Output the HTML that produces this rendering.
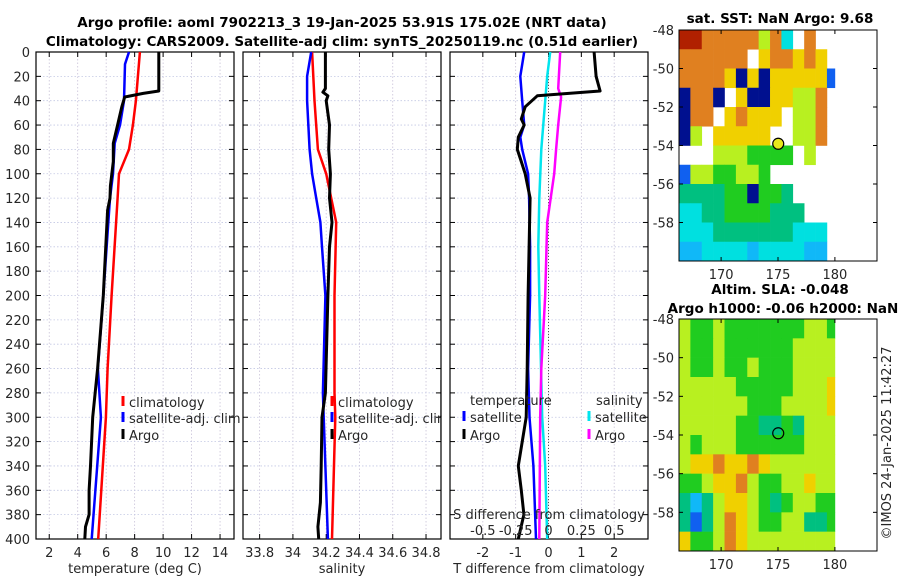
<!DOCTYPE html>
<html><head><meta charset="utf-8">
<style>
html,body{margin:0;padding:0;background:#fff;}
svg{display:block;font-family:"DejaVu Sans","Liberation Sans",sans-serif;}
</style></head>
<body>
<svg id="fig" width="900" height="580" viewBox="0 0 900 580" xmlns="http://www.w3.org/2000/svg">
<rect width="900" height="580" fill="#fff"/>
<text x="342" y="27" text-anchor="middle" font-size="13.5" font-weight="bold">Argo profile: aoml 7902213_3 19-Jan-2025 53.91S 175.02E (NRT data)</text>
<text x="342" y="46" text-anchor="middle" font-size="13.5" font-weight="bold">Climatology: CARS2009. Satellite-adj clim: synTS_20250119.nc (0.51d earlier)</text>
<g id="g"></g>
</svg>
<script>
// ---- data ----
const depthTicks=[0,20,40,60,80,100,120,140,160,180,200,220,240,260,280,300,320,340,360,380,400];
const tempTicks=[2,4,6,8,10,12,14];
const salTicks=[33.8,34,34.2,34.4,34.6,34.8];
const salTickLabels=["33.8","34","34.2","34.4","34.6","34.8"];
const dtTicks=[-2,-1,0,1,2];
const dsTicks=[-0.5,-0.25,0,0.25,0.5];
const dsTickLabels=["-0.5","-0.25","0","0.25","0.5"];

const climTempDepth=[0,40,60,80,100,120,200,260,300,400];
const climTemp=[8.37,8.09,7.88,7.6,6.9,6.8,6.38,6.1,5.98,5.44];
const satTempDepth=[0,10,40,60,75,100,120,200,260,300,400];
const satTemp=[7.6,7.32,7.25,6.97,6.6,6.48,6.27,5.8,5.42,5.63,4.98];
const argoTempDepth=[0,32,34,37,45,60,75,90,110,120,130,200,260,300,340,360,380,390,400];
const argoTemp=[9.7,9.7,8.6,7.3,7.1,6.8,6.5,6.5,6.3,6.27,6.1,5.8,5.4,5.05,4.9,4.8,4.8,4.55,4.5];

const climSalDepth=[0,40,80,100,120,140,200,280,300,400];
const climSal=[34.115,34.13,34.15,34.2,34.23,34.26,34.25,34.25,34.255,34.235];
const satSalDepth=[0,20,40,80,100,120,140,160,200,280,300,400];
const satSal=[34.11,34.085,34.085,34.1,34.115,34.14,34.165,34.175,34.195,34.18,34.185,34.21];
const argoSalDepth=[0,30,33,36,40,60,80,100,120,140,160,200,280,300,340,370,390,400];
const argoSal=[34.195,34.195,34.18,34.21,34.2,34.22,34.215,34.225,34.22,34.235,34.22,34.21,34.195,34.175,34.17,34.165,34.15,34.155];

const dSatTDepth=[0,20,40,60,70,80,100,120,160,200,260,300,340,400];
const dSatT=[-0.74,-0.86,-0.8,-0.74,-0.86,-0.8,-0.62,-0.59,-0.56,-0.56,-0.62,-0.58,-0.46,-0.38];
const dArgoTDepth=[0,20,32,36,45,55,60,70,80,90,100,120,200,260,300,340,360,380,400];
const dArgoT=[1.39,1.45,1.57,-0.34,-0.71,-0.83,-0.74,-0.92,-0.95,-0.83,-0.71,-0.56,-0.62,-0.65,-0.68,-0.92,-0.83,-0.75,-0.92];
const dSatSDepth=[0,20,40,80,120,160,200,300,340,400];
const dSatS=[0.013,-0.01,-0.025,-0.055,-0.07,-0.078,-0.07,-0.048,-0.025,-0.01];
const dArgoSDepth=[0,30,37,60,80,100,140,200,260,300,400];
const dArgoS=[0.089,0.074,0.096,0.074,0.058,0.043,-0.01,-0.025,-0.055,-0.063,-0.07];

const mapLonTicks=[170,175,180];
const mapLatTicks=[-48,-50,-52,-54,-56,-58];
const sstGrid=[
[9,9,8,8,8,8,8,6,8,3,-1,8,-1,-1],
[8,8,8,8,8,8,-1,7,8,8,7,8,7,-1],
[8,8,8,8,7,0,7,0,7,7,7,7,7,1],
[0,8,8,0,-1,7,0,0,7,7,6,6,8,-1],
[0,8,8,-1,7,8,7,7,7,-1,6,6,8,-1],
[0,6,-1,7,7,7,7,7,-1,-1,6,6,8,-1],
[-1,-1,-1,6,6,6,5,5,5,5,-1,6,-1,-1],
[1,6,6,5,5,6,6,5,-1,-1,-1,-1,-1,-1],
[4,4,4,4,5,5,0,5,5,4,-1,-1,-1,-1],
[3,3,4,4,5,5,5,5,4,4,4,-1,-1,-1],
[3,3,3,4,4,4,4,4,4,4,3,3,3,-1],
[2,2,3,3,3,3,2,3,3,3,3,2,2,-1]];
const slaGrid=[
[6,5,5,6,5,5,5,5,5,5,5,6,6,5],
[6,5,5,6,5,5,5,5,5,5,6,6,6,6],
[6,5,5,6,5,5,6,5,5,5,6,6,6,6],
[6,6,6,6,6,5,5,5,5,5,6,6,6,7],
[6,6,6,6,6,6,5,5,5,6,6,6,6,7],
[6,6,6,6,6,5,5,4,4,5,4,6,6,6],
[6,5,6,6,6,5,5,5,5,5,5,6,6,6],
[6,7,7,8,7,7,8,7,6,6,6,6,6,6],
[5,5,6,7,7,8,6,5,5,6,6,7,6,6],
[4,2,4,6,7,7,6,5,4,5,6,6,5,5],
[4,1,4,6,8,7,6,5,5,6,6,4,4,5],
[7,5,5,6,8,7,6,6,6,6,6,6,6,6]];
const argoLon=[175.02];
const argoLat=[-53.91];
const palette=['#00108f','#1060f0','#10b8f8','#00e0e0','#00c080','#20cc20','#b8f020','#f0d000','#e08020','#b02000'];

// ---- helpers ----
const NS="http://www.w3.org/2000/svg";
const G=document.getElementById('g');
function el(tag,attrs,parent){const e=document.createElementNS(NS,tag);for(const k in attrs)e.setAttribute(k,attrs[k]);(parent||G).appendChild(e);return e;}
const Y0=52,Y1=539;
const yD=d=>Y0+(d/400)*(Y1-Y0);
function lin(d0,d1,r0,r1){return v=>r0+(v-d0)/(d1-d0)*(r1-r0);}
const panels=[
 {x0:36,x1:234,sx:lin(1.07,14.98,36,234)},
 {x0:243,x1:441,sx:lin(33.70,34.89,243,441)},
 {x0:450,x1:648,sx:lin(-3,3.03,450,648)}];
const sxS=v=>panels[2].sx(v*4);

function gridAndBox(p,xt,name){
  for(const t of xt){const x=p.sx(t);
    const gl=el('line',{x1:x,x2:x,y1:Y0,y2:Y1,stroke:'#c9c2d8','stroke-width':0.8,'stroke-dasharray':'1.5,2'});
    
    el('line',{x1:x,x2:x,y1:Y1,y2:Y1-5,stroke:'#000'});el('line',{x1:x,x2:x,y1:Y0,y2:Y0+5,stroke:'#000'});}
  for(const d of depthTicks){const y=yD(d);
    const gl=el('line',{x1:p.x0,x2:p.x1,y1:y,y2:y,stroke:'#c3c8e4','stroke-width':0.8,'stroke-dasharray':'1.5,2'});
    
    el('line',{x1:p.x0,x2:p.x0+5,y1:y,y2:y,stroke:'#000'});el('line',{x1:p.x1,x2:p.x1-5,y1:y,y2:y,stroke:'#000'});}
  const b=el('rect',{x:p.x0,y:Y0,width:p.x1-p.x0,height:Y1-Y0,fill:'none',stroke:'#000','stroke-width':1.2});
  
}
function line(depths,vals,fx,color,w,name){
  const pts=depths.map((d,i)=>fx(vals[i]).toFixed(1)+','+yD(d).toFixed(1)).join(' ');
  const l=el('polyline',{points:pts,fill:'none',stroke:color,'stroke-width':w,'stroke-linejoin':'round'});
  
}
function txt(x,y,s,attrs,name){const t=el('text',Object.assign({x:x,y:y,'font-size':13,fill:'#262626'},attrs||{}));t.textContent=s;
  return t;}
function legendEntry(x,y,color,label,name){
  const m=el('line',{x1:x,x2:x,y1:y-11,y2:y-1,stroke:color,'stroke-width':3});
  
  txt(x+6,y,label,{},name);
}

// Panel 1 temperature
const p1=panels[0];gridAndBox(p1,tempTicks,'temp-panel');
line(climTempDepth,climTemp,p1.sx,'#ff0000',2.5,'temp-climatology-line');
line(satTempDepth,satTemp,p1.sx,'#0000ff',2.5,'temp-satellite-line');
line(argoTempDepth,argoTemp,p1.sx,'#000',3,'temp-argo-line');
for(const d of depthTicks)txt(30,yD(d)+5,String(d),{'text-anchor':'end'},'depth-tick-label');
for(const t of tempTicks)txt(p1.sx(t),557,String(t),{'text-anchor':'middle'},'temp-tick-label');
txt(135,573,'temperature (deg C)',{'text-anchor':'middle'},'temp-x-axis-title');
legendEntry(123,407,'#ff0000','climatology','temp-legend-climatology');
legendEntry(123,423,'#0000ff','satellite-adj. clim','temp-legend-satellite');
legendEntry(123,440,'#000','Argo','temp-legend-argo');

// Panel 2 salinity
const p2=panels[1];gridAndBox(p2,salTicks,'sal-panel');
line(climSalDepth,climSal,p2.sx,'#ff0000',2.5,'sal-climatology-line');
line(satSalDepth,satSal,p2.sx,'#0000ff',2.5,'sal-satellite-line');
line(argoSalDepth,argoSal,p2.sx,'#000',3,'sal-argo-line');
salTicks.forEach((t,i)=>txt(p2.sx(t),557,salTickLabels[i],{'text-anchor':'middle'},'sal-tick-label'));
txt(342,573,'salinity',{'text-anchor':'middle'},'sal-x-axis-title');
legendEntry(332,407,'#ff0000','climatology','sal-legend-climatology');
legendEntry(332,423,'#0000ff','satellite-adj. clim','sal-legend-satellite');
legendEntry(332,440,'#000','Argo','sal-legend-argo');
el('rect',{x:441.6,y:380,width:8,height:60,fill:'#fff'});
el('line',{x1:441,x2:441,y1:380,y2:440,stroke:'#000','stroke-width':1.2});

// Panel 3 differences
const p3=panels[2];gridAndBox(p3,dtTicks,'diff-panel');
const zl=el('line',{x1:p3.sx(0),x2:p3.sx(0),y1:Y0,y2:Y1,stroke:'#555','stroke-width':1,'stroke-dasharray':'1,2'});

line(dSatSDepth,dSatS,sxS,'#00e5ee',2.5,'diff-sal-satellite-line');
line(dArgoSDepth,dArgoS,sxS,'#ff00ff',2.5,'diff-sal-argo-line');
line(dSatTDepth,dSatT,p3.sx,'#0000ff',2.5,'diff-temp-satellite-line');
line(dArgoTDepth,dArgoT,p3.sx,'#000',3,'diff-temp-argo-line');
dtTicks.forEach(t=>txt(p3.sx(t),557,String(t),{'text-anchor':'middle'},'dt-tick-label'));
txt(549,573,'T difference from climatology',{'text-anchor':'middle'},'dt-x-axis-title');
txt(549,519,'S difference from climatology',{'text-anchor':'middle'},'ds-axis-title');
dsTicks.forEach((t,i)=>txt(sxS(t),535,dsTickLabels[i],{'text-anchor':'middle'},'ds-tick-label'));
txt(470,405,'temperature',{},'diff-legend-temperature-header');
txt(596,405,'salinity',{},'diff-legend-salinity-header');
legendEntry(464,422,'#0000ff','satellite','diff-legend-temp-satellite');
legendEntry(464,440,'#000','Argo','diff-legend-temp-argo');
legendEntry(589,422,'#00e5ee','satellite','diff-legend-sal-satellite');
legendEntry(589,440,'#ff00ff','Argo','diff-legend-sal-argo');

// ---- maps ----
function drawMap(top,bottom,grid,name,fillCircle){
  const mx=lin(166.3,183.7,679,877),my=lin(-48,-60,top,bottom);
  grid.forEach((row,r)=>row.forEach((v,c)=>{
    if(v<0)return;
    const lon0=166.3+c,lon1=Math.min(180,lon0+1);
    const cell=el('rect',{x:mx(lon0),y:my(-48-r),width:mx(lon1)-mx(lon0)+0.3,height:my(-49-r)-my(-48-r)+0.3,fill:palette[v]});
    
  }));
  const b=el('rect',{x:679,y:top,width:198,height:bottom-top,fill:'none',stroke:'#000','stroke-width':1});
  
  mapLonTicks.forEach(t=>{const x=mx(t);el('line',{x1:x,x2:x,y1:bottom,y2:bottom-4,stroke:'#000'});el('line',{x1:x,x2:x,y1:top,y2:top+4,stroke:'#000'});
    txt(x,bottom+18,String(t),{'text-anchor':'middle'},name+'-lon-tick-label');});
  mapLatTicks.forEach(t=>{const y=my(t);el('line',{x1:679,x2:683,y1:y,y2:y,stroke:'#000'});el('line',{x1:877,x2:873,y1:y,y2:y,stroke:'#000'});
    txt(674,y+5,String(t),{'text-anchor':'end'},name+'-lat-tick-label');});
  const c=el('circle',{cx:mx(argoLon[0]),cy:my(argoLat[0]),r:5.5,fill:fillCircle,stroke:'#000','stroke-width':1.2});
  
}
drawMap(30,261,sstGrid,'sst-map','#e8e81c');
drawMap(319,551,slaGrid,'sla-map','none');
txt(780,23,'sat. SST: NaN Argo: 9.68',{'text-anchor':'middle','font-weight':'bold','font-size':13.5,fill:'#000'},'sst-map-title');
txt(780,294,'Altim. SLA: -0.048',{'text-anchor':'middle','font-weight':'bold','font-size':13.5,fill:'#000'},'sla-map-title-line-1');
txt(783,313,'Argo h1000: -0.06 h2000: NaN',{'text-anchor':'middle','font-weight':'bold','font-size':13.5,fill:'#000'},'sla-map-title-line-2');
txt(0,0,'©IMOS 24-Jan-2025 11:42:27',{'text-anchor':'middle',transform:'translate(891,443) rotate(-90)'},'imos-timestamp');
</script>
</body></html>
